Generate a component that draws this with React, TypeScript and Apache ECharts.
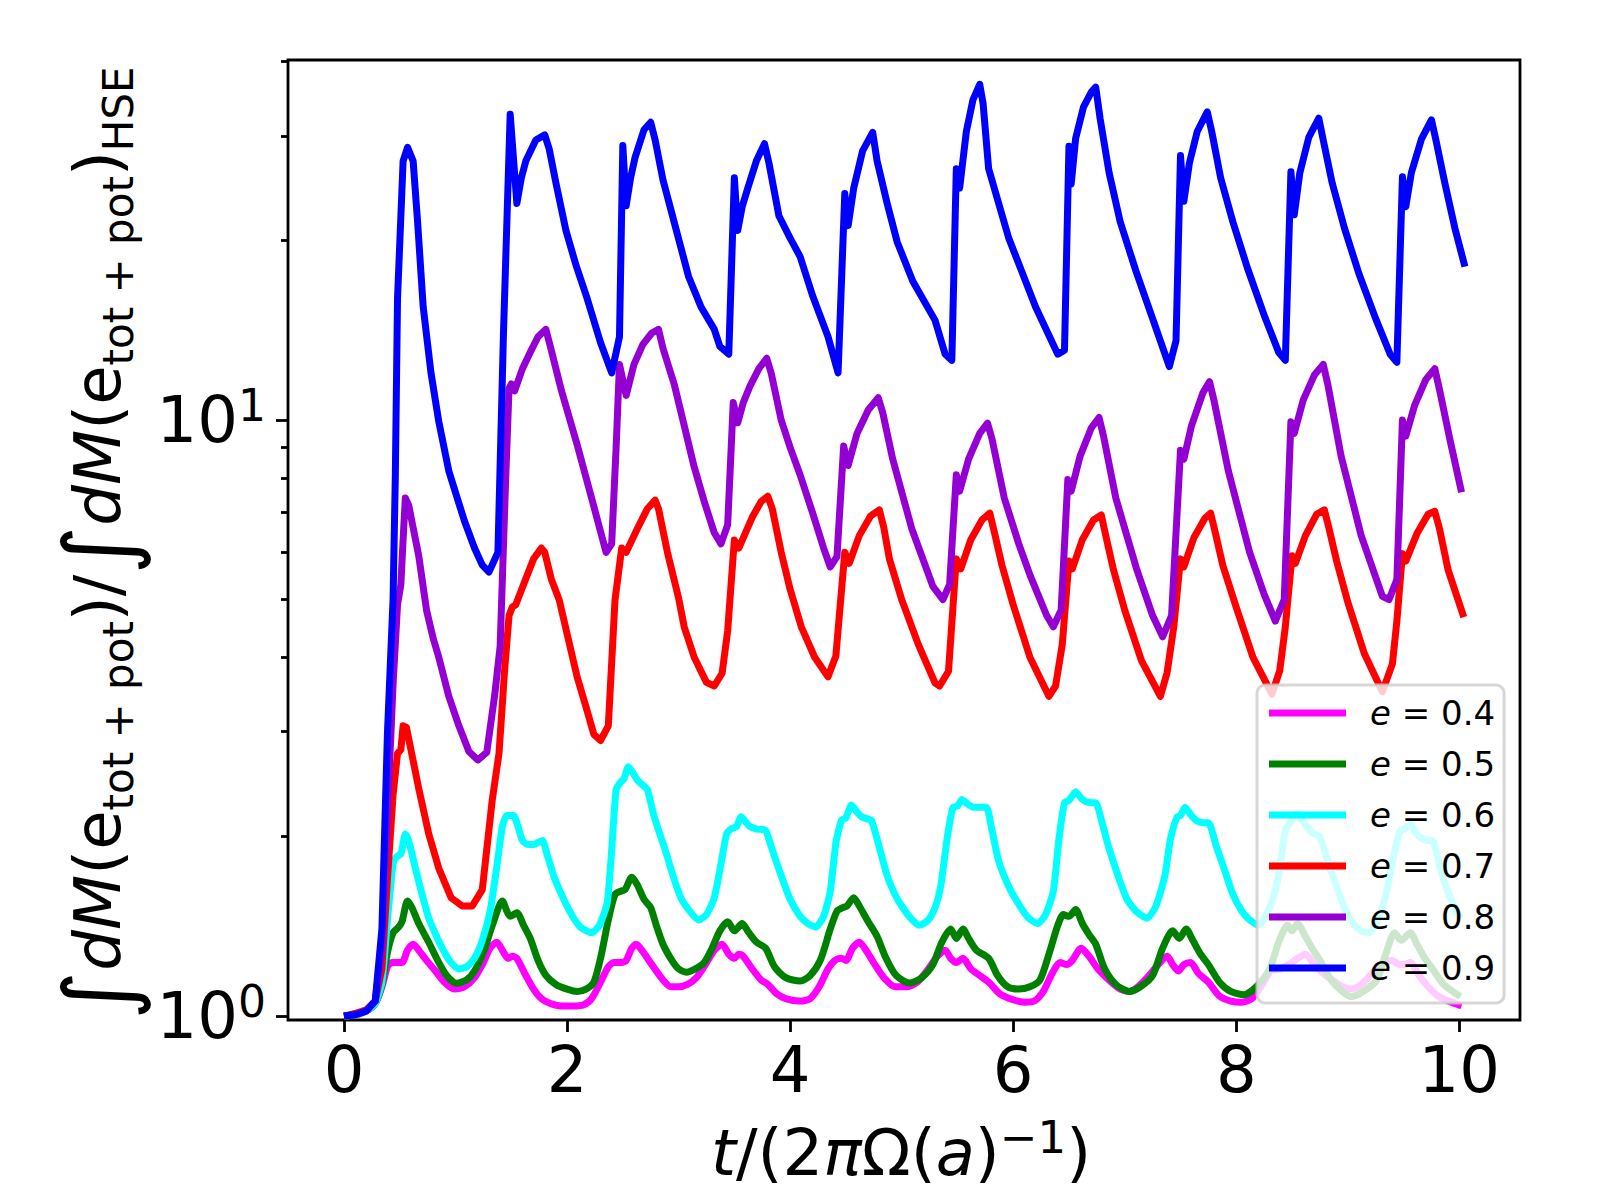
import React, { useEffect, useRef } from 'react';
import * as echarts from 'echarts';

// ---------- data (t in units of 2πΩ(a)^-1, ratio value) ----------
const SERIES_NAMES = ['e = 0.4', 'e = 0.5', 'e = 0.6', 'e = 0.7', 'e = 0.8', 'e = 0.9'];
const SERIES_COLORS = ['#ff00ff', '#008000', '#00ffff', '#ff0000', '#9400d3', '#0000ff'];
const SERIES_SMOOTH = [0.25, 0.25, 0.2, 0, 0, 0];

const E04: [number, number][] = [
  [0, 1.0], [0.1, 1.005], [0.2, 1.02], [0.28, 1.05], [0.34, 1.12], [0.39, 1.21], [0.43, 1.23], [0.47, 1.23], [0.52, 1.23], [0.57, 1.29], [0.62, 1.32], [0.67, 1.29], [0.74, 1.24], [0.82, 1.19], [0.9, 1.14], [0.99, 1.11],
  [1.08, 1.12], [1.17, 1.16], [1.25, 1.23], [1.31, 1.3], [1.37, 1.33], [1.42, 1.29], [1.47, 1.25], [1.51, 1.26], [1.55, 1.25], [1.62, 1.18], [1.7, 1.11], [1.77, 1.07], [1.85, 1.05], [1.95, 1.04],
  [2.05, 1.04], [2.15, 1.045], [2.22, 1.07], [2.3, 1.14], [2.37, 1.21], [2.42, 1.23], [2.49, 1.23], [2.53, 1.24], [2.58, 1.3], [2.62, 1.32], [2.67, 1.29], [2.76, 1.22], [2.86, 1.15], [2.93, 1.12],
  [3.0, 1.12], [3.08, 1.13], [3.16, 1.16], [3.24, 1.22], [3.32, 1.29], [3.39, 1.32], [3.45, 1.27], [3.5, 1.25], [3.54, 1.27], [3.58, 1.26], [3.66, 1.2], [3.74, 1.15], [3.8, 1.13], [3.88, 1.09], [3.96, 1.07],
  [4.08, 1.06], [4.18, 1.07], [4.26, 1.12], [4.34, 1.2], [4.4, 1.24], [4.46, 1.25], [4.5, 1.24], [4.56, 1.3], [4.62, 1.33], [4.68, 1.29], [4.76, 1.22], [4.84, 1.16], [4.94, 1.12],
  [5.05, 1.12], [5.14, 1.14], [5.24, 1.2], [5.32, 1.26], [5.39, 1.29], [5.44, 1.25], [5.49, 1.23], [5.55, 1.25], [5.62, 1.2], [5.7, 1.17], [5.78, 1.14], [5.88, 1.09],
  [6.0, 1.065], [6.1, 1.055], [6.19, 1.06], [6.27, 1.1], [6.35, 1.18], [6.42, 1.23], [6.48, 1.22], [6.53, 1.24], [6.61, 1.3], [6.68, 1.26], [6.76, 1.2], [6.88, 1.14], [6.96, 1.11],
  [7.04, 1.1], [7.12, 1.12], [7.22, 1.17], [7.3, 1.22], [7.38, 1.26], [7.43, 1.22], [7.48, 1.19], [7.53, 1.22], [7.59, 1.23], [7.66, 1.18], [7.75, 1.14], [7.85, 1.08], [7.95, 1.06],
  [8.05, 1.055], [8.14, 1.07], [8.22, 1.12], [8.31, 1.19], [8.39, 1.2], [8.47, 1.22], [8.55, 1.25], [8.62, 1.27], [8.7, 1.22], [8.78, 1.18], [8.86, 1.15], [8.95, 1.12],
  [9.03, 1.11], [9.12, 1.13], [9.22, 1.18], [9.32, 1.23], [9.4, 1.24], [9.46, 1.22], [9.51, 1.22], [9.56, 1.23], [9.64, 1.17], [9.72, 1.12], [9.81, 1.08], [9.9, 1.06], [10.02, 1.04],
];

const E05: [number, number][] = [
  [0, 1.0], [0.1, 1.005], [0.2, 1.02], [0.28, 1.05], [0.34, 1.13], [0.39, 1.28], [0.44, 1.38], [0.49, 1.41], [0.52, 1.44], [0.57, 1.56], [0.61, 1.52], [0.67, 1.43], [0.76, 1.33], [0.84, 1.24], [0.92, 1.17],
  [1.01, 1.135], [1.1, 1.15], [1.17, 1.19], [1.25, 1.28], [1.33, 1.42], [1.42, 1.56], [1.46, 1.5], [1.49, 1.47], [1.55, 1.49], [1.61, 1.42], [1.67, 1.35], [1.74, 1.24], [1.81, 1.17], [1.9, 1.13],
  [2.0, 1.11], [2.09, 1.1], [2.17, 1.11], [2.24, 1.14], [2.3, 1.25], [2.37, 1.45], [2.43, 1.6], [2.48, 1.62], [2.52, 1.63], [2.58, 1.71], [2.63, 1.66], [2.69, 1.57], [2.75, 1.52], [2.8, 1.42], [2.86, 1.32], [2.94, 1.24],
  [3.0, 1.2], [3.07, 1.185], [3.15, 1.2], [3.23, 1.23], [3.3, 1.3], [3.37, 1.39], [3.44, 1.44], [3.5, 1.39], [3.57, 1.43], [3.63, 1.38], [3.7, 1.33], [3.78, 1.3], [3.86, 1.21], [3.96, 1.16],
  [4.09, 1.145], [4.18, 1.17], [4.27, 1.24], [4.36, 1.4], [4.42, 1.5], [4.47, 1.52], [4.51, 1.53], [4.57, 1.58], [4.62, 1.53], [4.7, 1.44], [4.78, 1.36], [4.86, 1.25], [4.95, 1.17],
  [5.07, 1.136], [5.18, 1.16], [5.28, 1.22], [5.36, 1.33], [5.44, 1.4], [5.49, 1.35], [5.55, 1.4], [5.6, 1.35], [5.67, 1.29], [5.78, 1.25], [5.86, 1.17], [5.95, 1.12],
  [6.05, 1.11], [6.15, 1.12], [6.24, 1.15], [6.32, 1.27], [6.4, 1.42], [6.45, 1.48], [6.5, 1.47], [6.56, 1.51], [6.62, 1.43], [6.68, 1.37], [6.74, 1.32], [6.82, 1.2], [6.92, 1.13],
  [7.04, 1.1], [7.14, 1.12], [7.25, 1.17], [7.34, 1.3], [7.43, 1.39], [7.49, 1.35], [7.55, 1.4], [7.61, 1.34], [7.68, 1.27], [7.75, 1.22], [7.85, 1.14], [7.95, 1.1],
  [8.07, 1.086], [8.18, 1.12], [8.3, 1.2], [8.38, 1.33], [8.46, 1.42], [8.5, 1.39], [8.55, 1.43], [8.62, 1.36], [8.68, 1.3], [8.75, 1.24], [8.85, 1.15], [8.95, 1.1],
  [9.03, 1.078], [9.14, 1.1], [9.26, 1.15], [9.34, 1.27], [9.42, 1.38], [9.48, 1.34], [9.56, 1.38], [9.62, 1.32], [9.68, 1.26], [9.76, 1.2], [9.86, 1.13], [10.01, 1.078],
];

const E06: [number, number][] = [
  [0, 1.0], [0.1, 1.005], [0.2, 1.02], [0.28, 1.05], [0.34, 1.14], [0.39, 1.45], [0.44, 1.8], [0.47, 1.85], [0.51, 1.87], [0.55, 2.02], [0.58, 1.97], [0.64, 1.77], [0.7, 1.6], [0.76, 1.46], [0.83, 1.36], [0.9, 1.28], [0.96, 1.23],
  [1.03, 1.2], [1.1, 1.21], [1.17, 1.25], [1.24, 1.34], [1.31, 1.5], [1.37, 1.78], [1.42, 2.08], [1.46, 2.17], [1.52, 2.17], [1.56, 2.08], [1.6, 1.97], [1.65, 1.94], [1.7, 1.94], [1.75, 1.96], [1.78, 1.97], [1.82, 1.87], [1.88, 1.72], [1.95, 1.6],
  [2.04, 1.48], [2.12, 1.41], [2.22, 1.38], [2.29, 1.42], [2.36, 1.55], [2.4, 1.9], [2.44, 2.4], [2.48, 2.47], [2.51, 2.5], [2.55, 2.62], [2.59, 2.56], [2.63, 2.49], [2.68, 2.44], [2.72, 2.4], [2.77, 2.2], [2.82, 2.05], [2.88, 1.9], [2.95, 1.72],
  [3.02, 1.58], [3.1, 1.5], [3.18, 1.45], [3.25, 1.48], [3.32, 1.58], [3.38, 1.8], [3.43, 2.02], [3.47, 2.06], [3.52, 2.08], [3.56, 2.16], [3.6, 2.12], [3.64, 2.08], [3.7, 2.06], [3.78, 2.05], [3.82, 1.95], [3.87, 1.83], [3.92, 1.72],
  [4.0, 1.57], [4.09, 1.47], [4.16, 1.43], [4.23, 1.41], [4.3, 1.47], [4.36, 1.62], [4.41, 1.95], [4.46, 2.13], [4.5, 2.15], [4.55, 2.26], [4.6, 2.2], [4.64, 2.16], [4.7, 2.14], [4.73, 2.13], [4.79, 1.95], [4.87, 1.72], [4.94, 1.6],
  [5.0, 1.53], [5.08, 1.46], [5.16, 1.42], [5.24, 1.45], [5.3, 1.52], [5.35, 1.65], [5.41, 2.0], [5.46, 2.24], [5.5, 2.25], [5.54, 2.31], [5.59, 2.27], [5.65, 2.24], [5.71, 2.24], [5.76, 2.24], [5.81, 2.05], [5.87, 1.82], [5.96, 1.65],
  [6.06, 1.53], [6.14, 1.46], [6.22, 1.43], [6.29, 1.48], [6.36, 1.62], [6.41, 1.98], [6.46, 2.28], [6.5, 2.3], [6.56, 2.38], [6.61, 2.32], [6.65, 2.29], [6.7, 2.28], [6.74, 2.28], [6.8, 2.1], [6.86, 1.91], [6.94, 1.72],
  [7.02, 1.57], [7.1, 1.5], [7.2, 1.46], [7.28, 1.53], [7.36, 1.72], [7.41, 1.98], [7.47, 2.16], [7.5, 2.17], [7.54, 2.24], [7.59, 2.18], [7.64, 2.13], [7.7, 2.11], [7.75, 2.11], [7.82, 1.93], [7.89, 1.77], [7.97, 1.6],
  [8.05, 1.5], [8.12, 1.45], [8.2, 1.42], [8.27, 1.48], [8.34, 1.6], [8.39, 1.77], [8.44, 2.05], [8.49, 2.12], [8.55, 2.19], [8.6, 2.12], [8.65, 2.06], [8.7, 2.02], [8.75, 2.0], [8.82, 1.82], [8.89, 1.67], [8.97, 1.52],
  [9.06, 1.42], [9.12, 1.39], [9.19, 1.38], [9.27, 1.45], [9.35, 1.62], [9.41, 1.85], [9.47, 2.05], [9.51, 2.06], [9.56, 2.1], [9.61, 2.03], [9.66, 1.99], [9.72, 1.97], [9.76, 1.97], [9.82, 1.8], [9.88, 1.65], [9.95, 1.53], [10.01, 1.46],
];

const E07: [number, number][] = [
  [0, 1.0], [0.1, 1.01], [0.2, 1.025], [0.28, 1.06], [0.34, 1.2], [0.39, 1.7], [0.44, 2.35], [0.48, 2.76], [0.51, 2.8], [0.53, 3.07], [0.56, 3.05], [0.6, 2.8], [0.67, 2.41], [0.76, 2.02], [0.85, 1.77], [0.96, 1.58],
  [1.06, 1.53], [1.15, 1.53], [1.24, 1.63], [1.33, 2.31], [1.39, 2.76], [1.44, 3.8], [1.48, 4.7], [1.51, 4.86], [1.54, 4.9], [1.63, 5.42], [1.7, 5.85], [1.77, 6.1], [1.8, 6.0], [1.86, 5.4], [1.93, 4.99],
  [2.01, 4.3], [2.09, 3.71], [2.17, 3.3], [2.24, 2.97], [2.3, 2.9], [2.37, 3.07], [2.43, 4.99], [2.49, 6.1], [2.53, 6.0], [2.63, 6.57], [2.72, 7.1], [2.79, 7.34], [2.82, 7.1], [2.9, 6.0],
  [3.0, 5.03], [3.05, 4.5], [3.14, 4.0], [3.25, 3.63], [3.32, 3.58], [3.39, 3.76], [3.44, 4.43], [3.5, 6.29], [3.54, 6.1], [3.66, 6.87], [3.74, 7.3], [3.8, 7.45], [3.84, 7.1], [3.92, 6.0],
  [4.0, 5.2], [4.1, 4.5], [4.22, 4.0], [4.34, 3.71], [4.41, 4.02], [4.49, 6.0], [4.53, 5.75], [4.62, 6.4], [4.72, 6.9], [4.8, 7.07], [4.84, 6.6], [4.89, 5.85],
  [5.0, 5.0], [5.15, 4.2], [5.3, 3.62], [5.34, 3.58], [5.42, 3.79], [5.49, 5.85], [5.53, 5.63], [5.62, 6.3], [5.72, 6.8], [5.79, 6.98], [5.83, 6.5], [5.9, 5.7],
  [6.0, 4.9], [6.15, 4.0], [6.32, 3.44], [6.38, 3.58], [6.44, 4.2], [6.5, 5.8], [6.53, 5.63], [6.62, 6.3], [6.72, 6.8], [6.79, 6.93], [6.83, 6.4], [6.9, 5.6],
  [7.0, 4.8], [7.15, 3.95], [7.32, 3.44], [7.38, 3.77], [7.44, 4.5], [7.5, 5.85], [7.53, 5.67], [7.62, 6.35], [7.72, 6.85], [7.77, 6.98], [7.81, 6.5], [7.88, 5.7],
  [8.0, 4.85], [8.15, 4.0], [8.32, 3.47], [8.39, 3.8], [8.44, 4.5], [8.5, 5.92], [8.53, 5.75], [8.62, 6.4], [8.72, 6.95], [8.79, 7.07], [8.83, 6.6], [8.9, 5.8],
  [9.0, 4.95], [9.15, 4.05], [9.31, 3.5], [9.4, 3.9], [9.44, 4.6], [9.49, 5.97], [9.52, 5.8], [9.62, 6.45], [9.72, 6.95], [9.78, 7.03], [9.82, 6.6], [9.9, 5.6], [10.04, 4.67],
];

const E08: [number, number][] = [
  [0, 1.0], [0.1, 1.005], [0.2, 1.02], [0.28, 1.06], [0.34, 1.3], [0.39, 2.2], [0.44, 3.6], [0.48, 4.9], [0.51, 5.3], [0.53, 6.3], [0.55, 7.4], [0.58, 7.2], [0.62, 6.6], [0.67, 5.92], [0.74, 4.8], [0.8, 4.3], [0.85, 4.0], [0.94, 3.44],
  [1.03, 3.07], [1.12, 2.78], [1.2, 2.69], [1.28, 2.77], [1.35, 3.44], [1.4, 4.17], [1.45, 8.0], [1.48, 11.3], [1.5, 11.5], [1.53, 11.2], [1.6, 12.2], [1.67, 13.0], [1.74, 13.8], [1.81, 14.2], [1.85, 13.3], [1.95, 11.2],
  [2.09, 9.1], [2.22, 7.4], [2.35, 6.0], [2.4, 6.2], [2.44, 9.0], [2.47, 12.4], [2.53, 11.0], [2.6, 12.4], [2.68, 13.4], [2.76, 14.0], [2.82, 14.2], [2.86, 13.2], [2.96, 11.5],
  [3.05, 9.8], [3.14, 8.34], [3.23, 7.3], [3.32, 6.47], [3.38, 6.2], [3.44, 6.67], [3.49, 10.7], [3.53, 9.9], [3.58, 10.7], [3.64, 11.4], [3.72, 12.2], [3.79, 12.7], [3.83, 12.0], [3.92, 10.0],
  [4.0, 9.0], [4.09, 8.09], [4.2, 7.0], [4.3, 6.1], [4.36, 5.67], [4.42, 5.9], [4.48, 9.05], [4.52, 8.39], [4.6, 9.5], [4.7, 10.4], [4.79, 10.9], [4.83, 10.3], [4.92, 8.6],
  [5.09, 6.58], [5.28, 5.26], [5.37, 5.0], [5.43, 5.3], [5.49, 8.1], [5.52, 7.6], [5.6, 8.6], [5.7, 9.5], [5.77, 9.88], [5.81, 9.3], [5.92, 7.4],
  [6.05, 6.2], [6.15, 5.5], [6.3, 4.7], [6.36, 4.5], [6.43, 4.8], [6.49, 7.95], [6.52, 7.6], [6.6, 8.7], [6.7, 9.7], [6.77, 10.1], [6.81, 9.4], [6.92, 7.4],
  [7.11, 5.6], [7.25, 4.7], [7.34, 4.33], [7.42, 4.7], [7.5, 8.9], [7.53, 8.6], [7.6, 9.8], [7.7, 11.1], [7.76, 11.6], [7.8, 10.8], [7.93, 8.2],
  [8.12, 6.0], [8.25, 5.1], [8.35, 4.6], [8.43, 5.0], [8.49, 9.94], [8.52, 9.5], [8.6, 10.8], [8.7, 11.9], [8.78, 12.4], [8.82, 11.5], [8.94, 8.7],
  [9.12, 6.4], [9.31, 5.06], [9.37, 5.0], [9.44, 5.4], [9.49, 10.0], [9.52, 9.4], [9.6, 10.6], [9.7, 11.7], [9.78, 12.2], [9.82, 11.3], [9.92, 9.2], [10.02, 7.57],
];

const E09: [number, number][] = [
  [0, 1.0], [0.1, 1.005], [0.2, 1.02], [0.28, 1.06], [0.34, 1.4], [0.39, 3.0], [0.44, 5.0], [0.46, 8.0], [0.48, 16], [0.53, 27.2], [0.57, 28.7], [0.62, 27.2], [0.66, 21.5], [0.71, 15.5], [0.78, 12.0], [0.85, 9.94], [0.94, 8.21],
  [1.08, 6.77], [1.17, 6.1], [1.24, 5.71], [1.3, 5.56], [1.38, 6.0], [1.43, 14], [1.49, 32.6], [1.55, 23.1], [1.59, 25.5], [1.63, 27.2], [1.72, 29.5], [1.8, 30.1], [1.84, 28.5], [1.9, 25], [1.99, 20.8],
  [2.08, 18.2], [2.18, 16], [2.3, 13.5], [2.4, 12.0], [2.47, 13.8], [2.5, 28.9], [2.53, 22.9], [2.57, 25.5], [2.61, 27.6], [2.69, 30.7], [2.75, 31.6], [2.79, 29.5], [2.86, 25.3], [2.96, 21.5],
  [3.09, 17.4], [3.2, 15.5], [3.32, 14.2], [3.37, 13.3], [3.45, 12.9], [3.5, 25.5], [3.53, 20.8], [3.57, 22.8], [3.62, 24.5], [3.7, 27.3], [3.77, 29.1], [3.81, 27.0], [3.9, 22.0],
  [4.0, 20.2], [4.09, 18.8], [4.2, 16.2], [4.34, 13.8], [4.43, 12.0], [4.49, 24.0], [4.52, 21.2], [4.57, 24.5], [4.65, 28.3], [4.74, 30.4], [4.78, 27.2], [4.87, 23.1], [4.96, 19.9],
  [5.1, 17.1], [5.3, 14.7], [5.39, 12.9], [5.45, 12.6], [5.49, 26.4], [5.52, 24.5], [5.58, 30.5], [5.64, 34.5], [5.7, 36.6], [5.73, 34], [5.78, 26.4], [5.96, 20.2],
  [6.2, 15.5], [6.4, 12.9], [6.46, 13.1], [6.5, 28.8], [6.52, 24.9], [6.56, 29.7], [6.63, 33.5], [6.7, 35.5], [6.74, 36.2], [6.78, 32], [6.86, 26], [6.96, 21.5],
  [7.1, 17.8], [7.25, 14.8], [7.4, 12.3], [7.46, 13.6], [7.5, 27.8], [7.53, 23.3], [7.58, 27], [7.65, 30.5], [7.74, 32.9], [7.78, 30.5], [7.86, 25.5], [7.97, 21.5],
  [8.1, 18.0], [8.25, 15.0], [8.38, 13.0], [8.44, 12.6], [8.49, 26.1], [8.52, 22.1], [8.57, 26], [8.65, 29.8], [8.74, 32.1], [8.78, 29.5], [8.86, 25], [8.97, 21],
  [9.1, 17.6], [9.25, 14.8], [9.38, 12.9], [9.44, 12.5], [9.49, 25.6], [9.52, 22.8], [9.57, 26], [9.66, 29.6], [9.75, 31.9], [9.79, 29.5], [9.87, 25], [9.96, 21], [10.05, 18.1],
];

const SERIES_DATA = [E04, E05, E06, E07, E08, E09];

const X_TICKS = [0, 2, 4, 6, 8, 10];
const X_RANGE = [-0.502, 10.544];
const Y_MAJOR = [1, 10];
const Y_MINOR = [2, 3, 4, 5, 6, 7, 8, 9, 20, 30, 40];
const Y_RANGE = [0.985, 40.2];

const FONT = "'DejaVu Sans', sans-serif";

const lg = (v: number) => Math.log10(v);

export default function App() {
  const ref = useRef<HTMLDivElement>(null);

  useEffect(() => {
    if (!ref.current) return;
    const chart = echarts.init(ref.current, undefined, { renderer: 'svg' });

    const yLabelRich = {
      int: { fontFamily: FONT, fontSize: 94, lineHeight: 82, fill: '#000', color: '#000' },
      it: { fontFamily: FONT, fontStyle: 'italic', fontSize: 64, lineHeight: 82, fill: '#000', color: '#000' },
      n: { fontFamily: FONT, fontSize: 64, lineHeight: 82, fill: '#000', color: '#000' },
      sub: { fontFamily: FONT, fontSize: 42, lineHeight: 42, verticalAlign: 'bottom', fill: '#000', color: '#000' },
    };
    const xLabelRich = {
      it: { fontFamily: FONT, fontStyle: 'italic', fontSize: 64, lineHeight: 76, fill: '#000', color: '#000' },
      n: { fontFamily: FONT, fontSize: 64, lineHeight: 76, fill: '#000', color: '#000' },
      sup: { fontFamily: FONT, fontSize: 45, lineHeight: 43, verticalAlign: 'top', fill: '#000', color: '#000' },
    };

    const option: any = {
      animation: false,
      backgroundColor: '#ffffff',
      grid: {
        left: 288, top: 60, right: 80, bottom: 180,
        show: true, borderColor: '#000', borderWidth: 2.8, backgroundColor: 'transparent',
        containLabel: false, outerBoundsMode: 'none',
      },
      xAxis: {
        type: 'value', min: X_RANGE[0], max: X_RANGE[1],
        axisLine: { show: false, onZero: false },
        splitLine: { show: false },
        axisTick: { show: true, customValues: X_TICKS, length: 12, lineStyle: { color: '#000', width: 2.8 } },
        axisLabel: { customValues: X_TICKS, fontSize: 64, color: '#000', fontFamily: FONT, margin: 18 },
      },
      yAxis: [
        {
          type: 'value', min: lg(Y_RANGE[0]), max: lg(Y_RANGE[1]), position: 'left',
          axisLine: { show: false, onZero: false },
          splitLine: { show: false },
          axisTick: { show: true, customValues: Y_MAJOR.map(lg), length: 12, lineStyle: { color: '#000', width: 2.8 } },
          axisLabel: {
            customValues: Y_MAJOR.map(lg), margin: 22, color: '#000',
            formatter: (v: number) => `{b|10}{s|${Math.round(v)}}`,
            rich: {
              b: { fontFamily: FONT, fontSize: 64, lineHeight: 74, color: '#000' },
              s: { fontFamily: FONT, fontSize: 44, lineHeight: 40, verticalAlign: 'top', color: '#000' },
            },
          },
        },
        {
          type: 'value', min: lg(Y_RANGE[0]), max: lg(Y_RANGE[1]), position: 'left',
          axisLine: { show: false, onZero: false },
          splitLine: { show: false },
          axisLabel: { show: false },
          axisTick: { show: true, customValues: Y_MINOR.map(lg), length: 7, lineStyle: { color: '#000', width: 2.8 } },
        },
      ],
      legend: {
        orient: 'vertical', left: 1257, top: 685,
        padding: [11, 9, 18, 12],
        itemWidth: 77, itemHeight: 7, itemGap: 17,
        icon: 'rect',
        selectedMode: false,
        backgroundColor: 'rgba(255,255,255,0.8)',
        borderColor: 'rgba(204,204,204,0.8)', borderWidth: 3, borderRadius: 8,
        data: SERIES_NAMES,
        formatter: (name: string) => `{i|e}{n|${name.slice(1)}}`,
        textStyle: {
          padding: [0, 0, 0, 19],
          rich: {
            i: { fontFamily: FONT, fontStyle: 'italic', fontSize: 34, color: '#000' },
            n: { fontFamily: FONT, fontSize: 34, color: '#000' },
          },
        },
      },
      series: SERIES_DATA.map((d, i) => ({
        type: 'line',
        name: SERIES_NAMES[i],
        data: d.map(([t, v]) => [t, lg(v)]),
        symbol: 'none',
        showSymbol: false,
        smooth: SERIES_SMOOTH[i],
        clip: true,
        color: SERIES_COLORS[i],
        itemStyle: { color: SERIES_COLORS[i] },
        lineStyle: { color: SERIES_COLORS[i], width: 7, join: 'round' },
      })),
      graphic: [
        {
          type: 'text', x: 98, y: 543, rotation: Math.PI / 2, z: 100,
          style: {
            text: '{int|∫}{it|dM}{n|(e}{sub|tot + pot}{n|)/}{int|∫}{it|dM}{n|(e}{sub|tot + pot}{n|)}{sub|HSE}',
            rich: yLabelRich,
            align: 'center', verticalAlign: 'middle',
            textAlign: 'center', textVerticalAlign: 'middle',
            fill: '#000',
          },
        },
        {
          type: 'text', x: 901, y: 1153, z: 100,
          style: {
            text: '{it|t}{n|/(2}{it|π}{n|Ω(}{it|a}{n|)}{sup|−1}{n|)}',
            rich: xLabelRich,
            align: 'center', verticalAlign: 'middle',
            textAlign: 'center', textVerticalAlign: 'middle',
            fill: '#000',
          },
        },
      ],
    };

    chart.setOption(option);
    return () => chart.dispose();
  }, []);

  return (
    <div
      ref={ref}
      style={{ position: 'fixed', left: 0, top: 0, width: 1600, height: 1200, background: '#fff' }}
    />
  );
}
